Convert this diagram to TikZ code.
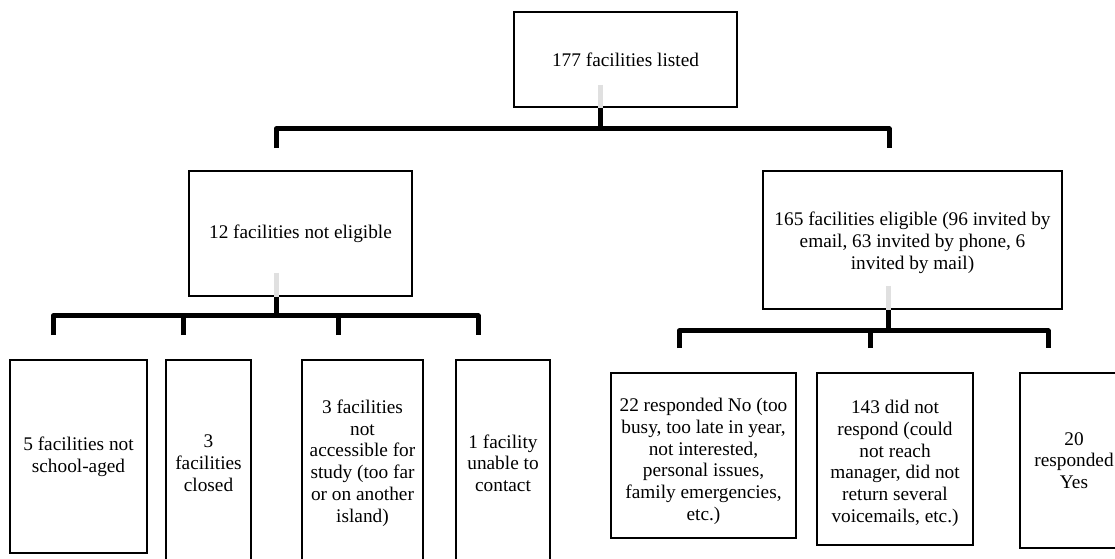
\documentclass[tikz,border=0pt]{standalone}
\usepackage{fontspec}
\setmainfont{Liberation Serif}
\usetikzlibrary{calc}
\begin{document}
\begin{tikzpicture}[x=1pt,y=-1pt,
  box/.style={draw=black,line width=1.8pt,fill=white,align=center,inner sep=2pt,
    font=\fontsize{19.3}{21.7}\selectfont},
  stub/.style={draw=black!12,line width=5pt},
  bar/.style={draw=black,line width=5pt,line join=round}]
\useasboundingbox (0,0) rectangle (1115,558);
\fill[white] (0,0) rectangle (1115,558);
% boxes
\node[box,minimum width=223pt,minimum height=95pt] (top) at (625.5,59.5) {177 facilities listed};
\node[box,minimum width=223pt,minimum height=125pt] (ne) at (300.5,233.5) {12 facilities not eligible};
\node[box,minimum width=299pt,minimum height=138pt] (el) at (912.5,240) {\rule{0pt}{19pt}165 facilities eligible (96 invited by\\email, 63 invited by phone, 6\\invited by mail)};
\node[box,minimum width=137pt,minimum height=193pt] (b1) at (78.5,456.5) {5 facilities not\\school-aged};
\node[box,minimum width=85pt,minimum height=206pt] (b2) at (208.5,463) {3\\facilities\\closed};
\node[box,minimum width=121pt,minimum height=206pt] (b3) at (362.5,463) {3 facilities\\not\\accessible for\\study (too far\\or on another\\island)};
\node[box,minimum width=94pt,minimum height=206pt] (b4) at (503,463) {1 facility\\unable to\\contact};
\node[box,minimum width=185pt,minimum height=165pt] (ra) at (703.5,455.5) {\rule{0pt}{25pt}22 responded No (too\\busy, too late in year,\\not interested,\\personal issues,\\family emergencies,\\etc.)};
\node[box,minimum width=156pt,minimum height=172pt] (rb) at (895,459) {\rule{0pt}{22pt}143 did not\\respond (could\\not reach\\manager, did not\\return several\\voicemails, etc.)};
\node[box,minimum width=108pt,minimum height=175pt] (rc) at (1074,460.5) {20\\responded\\Yes};
% connector: top
\coordinate (t0) at ($(top.south)+(-25.5,-23)$);
\draw[stub] (t0) -- (t0 |- top.south);
\draw[bar] (t0 |- top.south) -- ++(0,21) coordinate (tj);
\coordinate (tl) at (276,148);
\coordinate (tr) at (889,148);
\draw[bar] (tl) |- (tj) -| (tr);
% connector: not eligible
\coordinate (n0) at ($(ne.south)+(-24.5,-24)$);
\draw[stub] (n0) -- (n0 |- ne.south);
\draw[bar] (n0 |- ne.south) -- ++(0,19) coordinate (nj);
\coordinate (n1) at (53,335);
\coordinate (n2) at (183,335);
\coordinate (n3) at (338,335);
\coordinate (n4) at (478,335);
\draw[bar] (n1) |- (nj) -| (n4);
\draw[bar] (n2) -- (n2 |- nj);
\draw[bar] (n3) -- (n3 |- nj);
% connector: eligible
\coordinate (e0) at ($(el.south)+(-24.5,-24)$);
\draw[stub] (e0) -- (e0 |- el.south);
\draw[bar] (e0 |- el.south) -- ++(0,21) coordinate (ej);
\coordinate (e1) at (679,348);
\coordinate (e2) at (870,348);
\coordinate (e3) at (1048,348);
\draw[bar] (e1) |- (ej) -| (e3);
\draw[bar] (e2) -- (e2 |- ej);
\end{tikzpicture}
\end{document}
